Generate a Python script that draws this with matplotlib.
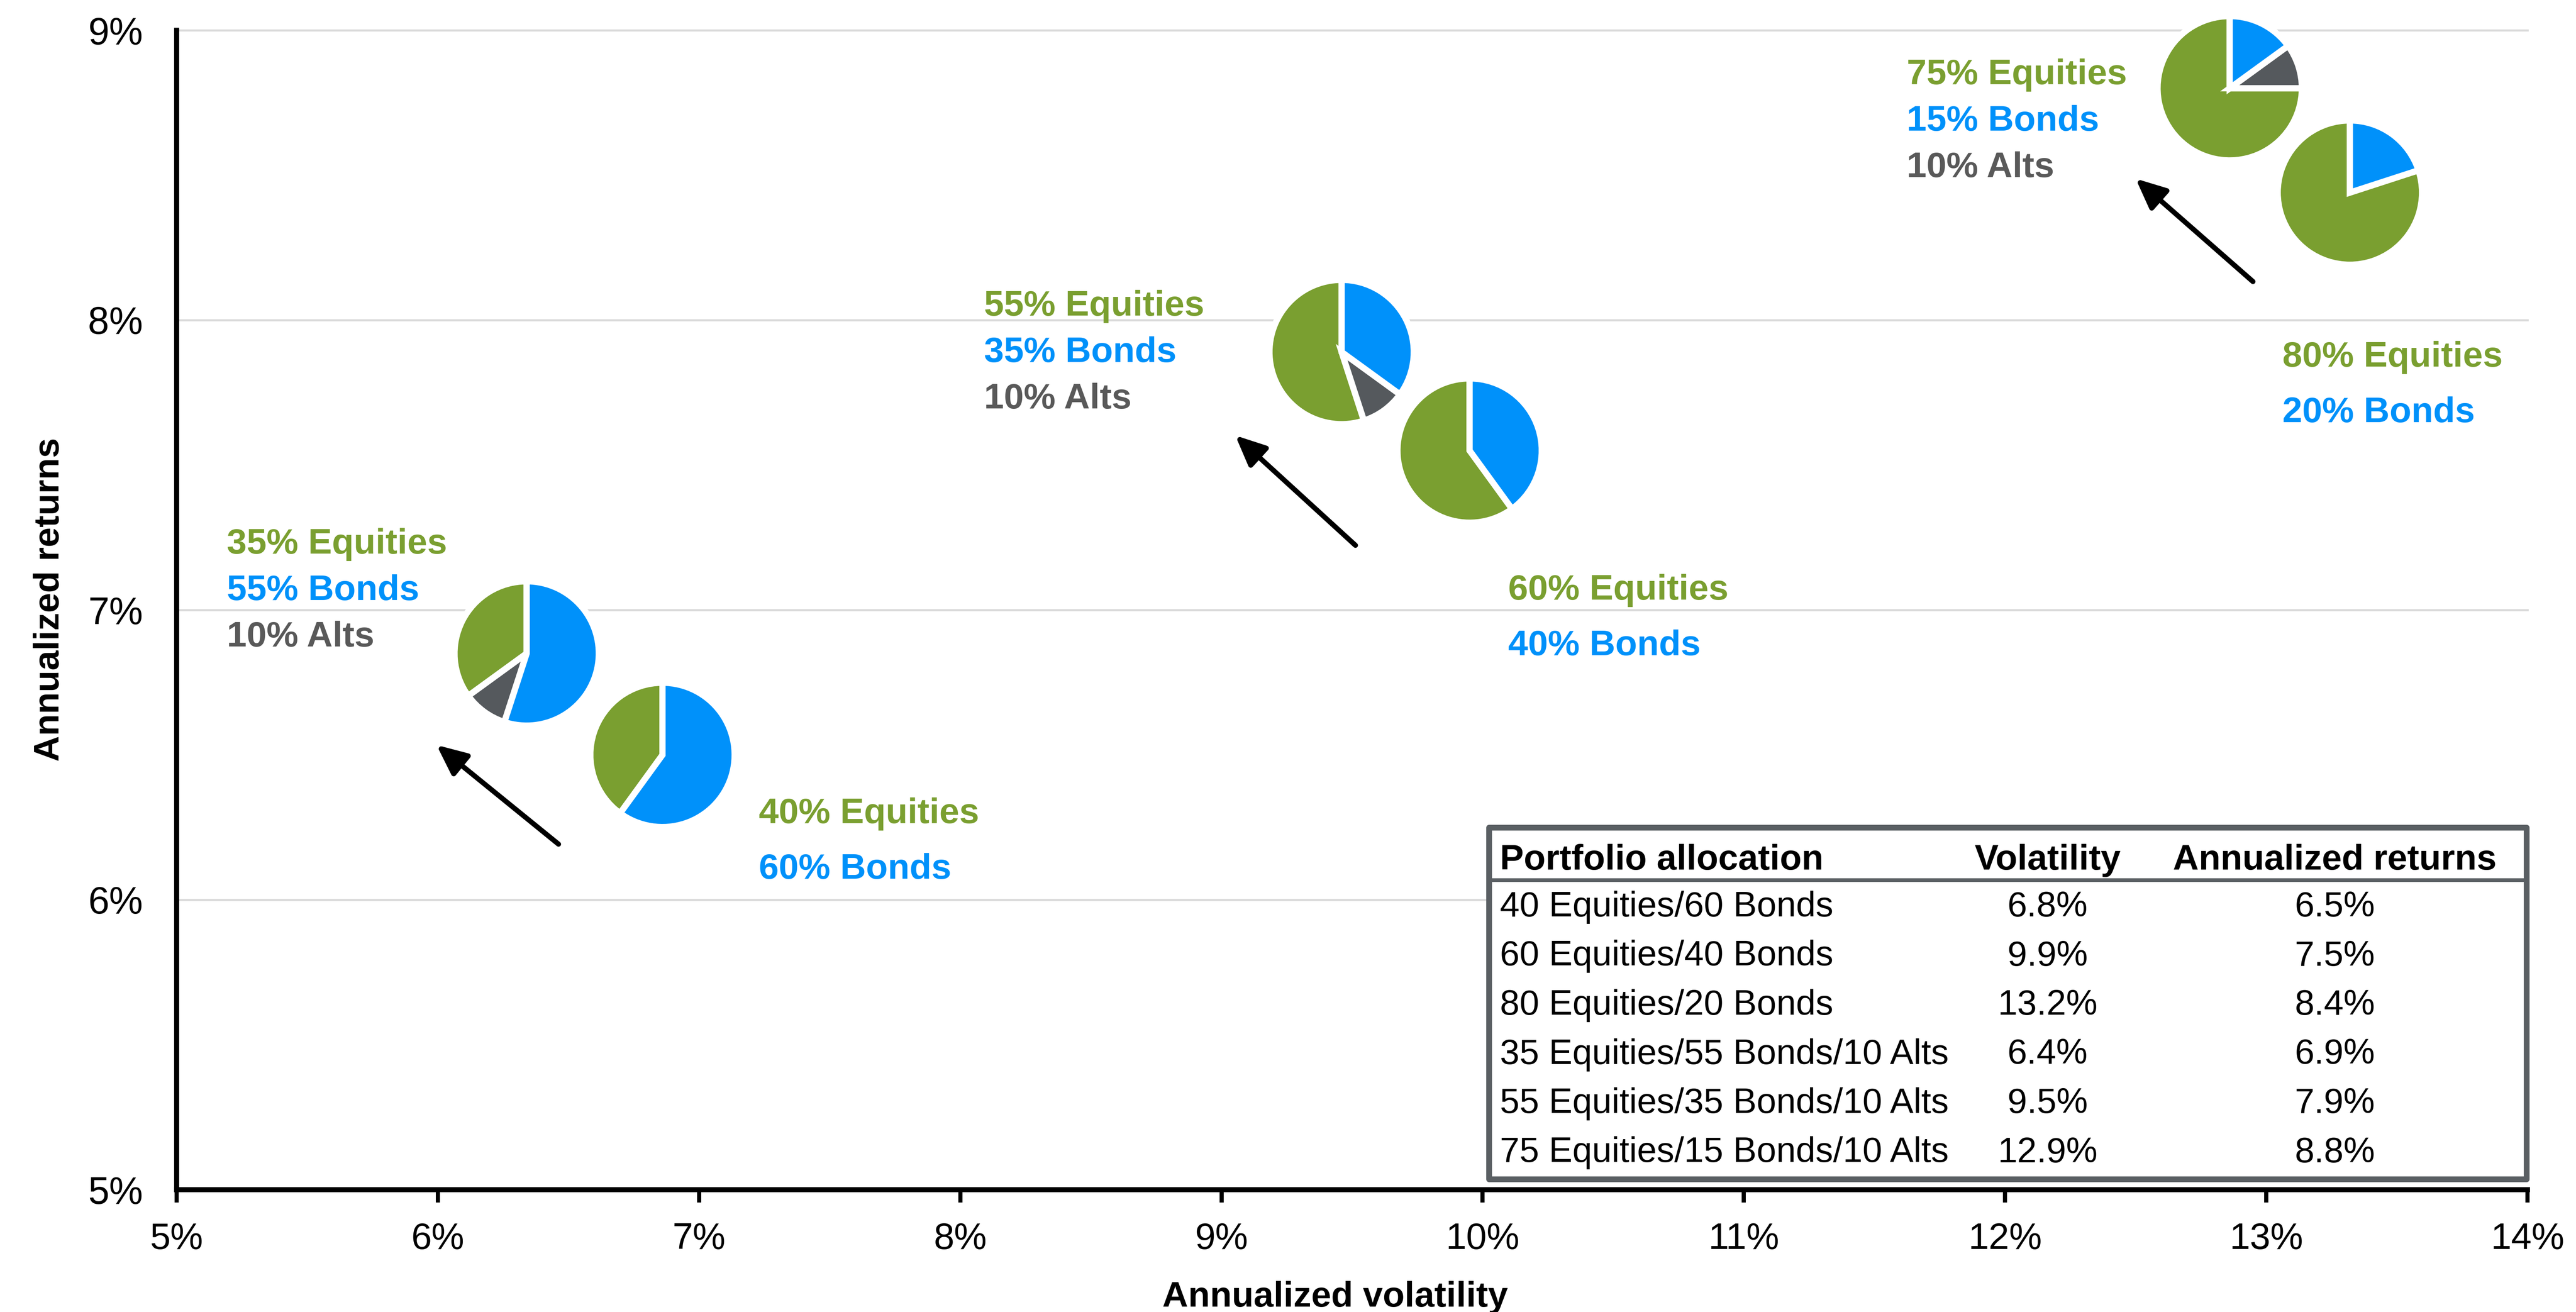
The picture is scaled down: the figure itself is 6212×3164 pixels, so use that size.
import matplotlib
matplotlib.use("Agg")
import matplotlib.pyplot as plt
from matplotlib.transforms import ScaledTranslation
from matplotlib.patches import Rectangle
from matplotlib.lines import Line2D

plt.rcParams['font.family'] = ['Liberation Sans', 'DejaVu Sans']

# ---------------- data ----------------
equities = [40, 60, 80, 35, 55, 75]
bonds = [60, 40, 20, 55, 35, 15]
alts = [0, 0, 0, 10, 10, 10]
# values stated in the table
volatility = [6.8, 9.9, 13.2, 6.4, 9.5, 12.9]
returns = [6.5, 7.5, 8.4, 6.9, 7.9, 8.8]
# pie centres
pie_vol = [6.86, 9.95, 13.32, 6.34, 9.46, 12.86]
pie_ret = [6.50, 7.55, 8.44, 6.85, 7.89, 8.80]
x_ticks = [5, 6, 7, 8, 9, 10, 11, 12, 13, 14]
y_ticks = [5, 6, 7, 8, 9]
table_header = ["Portfolio allocation", "Volatility", "Annualized returns"]
x_title = "Annualized volatility"
y_title = "Annualized returns"

# ---------------- layout / style ----------------
GREEN = '#7A9F30'
BLUE = '#0091FA'
GRAY = '#55595D'
ALT_TEXT = '#595959'
BORDER = '#5A5F63'
GRID = '#D9D9D9'

# label anchors (left x, first baseline y in data units)
label_anchor = [(7.229, 6.265), (10.098, 7.036), (13.062, 7.840),
                (5.192, 7.195), (8.091, 8.016), (11.623, 8.814)]
# arrows: (tail, head) in data units
arrow_pos = [((6.462, 6.192), (5.995, 6.534)),
             ((9.513, 7.223), (9.053, 7.602)),
             ((12.949, 8.133), (12.500, 8.488))]

W, H, DPI = 6212, 3164, 400
AX_L, AX_R, AX_T, AX_B = 426, 6095, 73, 2869

fig = plt.figure(figsize=(W / DPI, H / DPI), dpi=DPI)
fig.patch.set_facecolor('white')
ax = fig.add_axes([AX_L / W, 1 - AX_B / H, (AX_R - AX_L) / W, (AX_B - AX_T) / H])


def axx(px):
    return (px - AX_L) / (AX_R - AX_L)


def axy(py):
    return (AX_B - py) / (AX_B - AX_T)


# ---------------- pies ----------------
PIE_R_IN = 174 / DPI
for i in range(len(equities)):
    vals, cols = [equities[i]], [GREEN]
    if alts[i]:
        vals.append(alts[i])
        cols.append(GRAY)
    vals.append(bonds[i])
    cols.append(BLUE)
    res = ax.pie(vals, colors=cols, startangle=90, counterclock=True,
                 radius=PIE_R_IN, center=(0, 0), frame=True,
                 wedgeprops=dict(edgecolor='white', linewidth=2.7))
    wedges = res[0]
    trans = fig.dpi_scale_trans + ScaledTranslation(pie_vol[i], pie_ret[i], ax.transData)
    for w in wedges:
        w.set_transform(trans)
        w.set_clip_on(False)
        w.set_zorder(3)

ax.set_aspect('auto')
ax.set_xlim(x_ticks[0], x_ticks[-1])
ax.set_ylim(y_ticks[0], y_ticks[-1])

# ---------------- pie labels ----------------
for i in range(len(equities)):
    lines = [(f"{equities[i]}% Equities", GREEN), (f"{bonds[i]}% Bonds", BLUE)]
    if alts[i]:
        lines.append((f"{alts[i]}% Alts", ALT_TEXT))
    spacing = 20.2 if alts[i] else 24.1
    lx, ly = label_anchor[i]
    for k, (txt, c) in enumerate(lines):
        ax.annotate(txt, xy=(lx, ly), xytext=(0, -k * spacing), textcoords='offset points',
                    ha='left', va='baseline', color=c, fontsize=15.5, fontweight='bold',
                    zorder=4, annotation_clip=False)

# ---------------- arrows ----------------
for tail, head in arrow_pos:
    ax.annotate('', xy=head, xytext=tail,
                arrowprops=dict(arrowstyle='-|>,head_length=0.55,head_width=0.25',
                                color='black', lw=2.2, mutation_scale=20,
                                shrinkA=0, shrinkB=0),
                zorder=4, annotation_clip=False)

# ---------------- axes styling ----------------
ax.set_xticks(x_ticks)
ax.set_xticklabels([f"{v}%" for v in x_ticks])
ax.set_yticks(y_ticks)
ax.set_yticklabels([f"{v}%" for v in y_ticks])
ax.spines['top'].set_visible(False)
ax.spines['right'].set_visible(False)
ax.spines['left'].set_linewidth(2.2)
ax.spines['bottom'].set_linewidth(2.2)
ax.spines['left'].set_color('black')
ax.spines['bottom'].set_color('black')
ax.tick_params(axis='x', direction='out', length=5.6, width=1.8, pad=8.5,
               labelsize=16, colors='black')
ax.tick_params(axis='y', length=0, pad=14.6, labelsize=16.5, colors='black')
ax.yaxis.grid(True, color=GRID, linewidth=0.9)
ax.set_axisbelow(True)
for gl in ax.get_ygridlines():
    gl.set_clip_on(False)

ax.set_xlabel(x_title, fontsize=15.5, fontweight='bold', va='baseline')
ax.xaxis.set_label_coords(axx(3220), axy(3151))
ax.set_ylabel(y_title, fontsize=15.5, fontweight='bold', va='baseline')
ax.yaxis.set_label_coords(axx(142), axy(1446))

# ---------------- table ----------------
T_L, T_R, T_T, T_B = 3591, 6093, 1996, 2844
box = Rectangle((axx(T_L), axy(T_B)), axx(T_R) - axx(T_L), axy(T_T) - axy(T_B),
                transform=ax.transAxes, facecolor='white', edgecolor=BORDER,
                linewidth=2.5, joinstyle='round', zorder=5, clip_on=False)
ax.add_patch(box)
box.set_clip_on(False)
sep = Line2D([axx(T_L), axx(T_R)], [axy(2122), axy(2122)], transform=ax.transAxes,
             color=BORDER, linewidth=1.6, zorder=6)
ax.add_line(sep)
sep.set_clip_on(False)

COL_LEFT, COL_VOL, COL_RET = 3617, 4938, 5630
HEAD_BASE, ROW0_BASE, ROW_STEP = 2097, 2210, 118.5
ax.text(axx(COL_LEFT), axy(HEAD_BASE), table_header[0], transform=ax.transAxes,
        ha='left', va='baseline', fontsize=15.5, fontweight='bold', zorder=7)
ax.text(axx(COL_VOL), axy(HEAD_BASE), table_header[1], transform=ax.transAxes,
        ha='center', va='baseline', fontsize=15.5, fontweight='bold', zorder=7)
ax.text(axx(COL_RET), axy(HEAD_BASE), table_header[2], transform=ax.transAxes,
        ha='center', va='baseline', fontsize=15.5, fontweight='bold', zorder=7)
for i in range(len(equities)):
    name = f"{equities[i]} Equities/{bonds[i]} Bonds" + (f"/{alts[i]} Alts" if alts[i] else "")
    yb = axy(ROW0_BASE + i * ROW_STEP)
    ax.text(axx(COL_LEFT), yb, name, transform=ax.transAxes, ha='left', va='baseline',
            fontsize=15.3, zorder=7)
    ax.text(axx(COL_VOL), yb, f"{volatility[i]:.1f}%", transform=ax.transAxes,
            ha='center', va='baseline', fontsize=15.3, zorder=7)
    ax.text(axx(COL_RET), yb, f"{returns[i]:.1f}%", transform=ax.transAxes,
            ha='center', va='baseline', fontsize=15.3, zorder=7)

fig.savefig('out.png', dpi=DPI, facecolor='white')
